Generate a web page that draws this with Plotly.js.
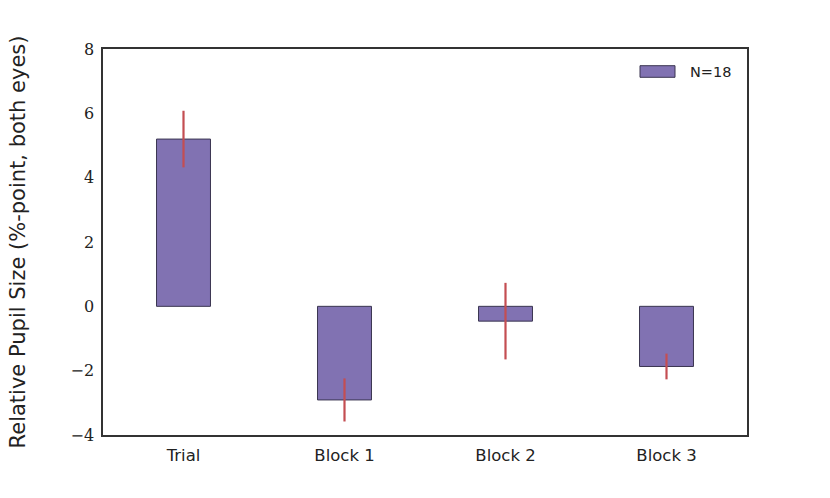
<!DOCTYPE html>
<html>
<head>
<meta charset="utf-8">
<script src="https://cdn.plot.ly/plotly-3.0.1.min.js"></script>
<style>html,body{margin:0;padding:0;background:#fff;}#chart{width:830px;height:498px;}</style>
</head>
<body>
<div id="chart"></div>
<script>
const categories = ["Trial", "Block 1", "Block 2", "Block 3"];
const values = [5.20, -2.91, -0.46, -1.87];
const errors = [0.88, 0.67, 1.19, 0.40];
const seriesName = "N=18";
const yTicks = [-4, -2, 0, 2, 4, 6, 8];
const yTickLabels = ["\u22124", "\u22122", "0", "2", "4", "6", "8"];

const trace = {
  type: "bar",
  x: categories,
  y: values,
  name: seriesName,
  width: 0.335,
  marker: {color: "#8172B2", line: {color: "#3a3550", width: 1}},
  error_y: {type: "data", array: errors, visible: true, color: "#C44E52", thickness: 2.2, width: 0},
  showlegend: false
};

const layout = {
  width: 830, height: 498,
  margin: {l: 103, r: 83, t: 49, b: 63},
  paper_bgcolor: "#fff", plot_bgcolor: "#fff",
  xaxis: {
    type: "category", range: [-0.5, 3.5],
    showgrid: false, zeroline: false, ticks: "",
    showline: true, linecolor: "#333", linewidth: 1.6, mirror: true,
    ticklabelstandoff: 5,
    tickfont: {family: "DejaVu Sans", size: 16.5, color: "#222"}
  },
  yaxis: {
    range: [-4, 8], tickvals: yTicks, ticktext: yTickLabels,
    showgrid: false, zeroline: false, ticks: "",
    showline: true, linecolor: "#333", linewidth: 1.6, mirror: true,
    ticklabelstandoff: 4,
    tickfont: {family: "DejaVu Serif", size: 16, color: "#222"},
    title: {text: "Relative Pupil Size (%-point, both eyes)", font: {family: "DejaVu Sans", size: 21, color: "#222"}, standoff: 39}
  },
  shapes: [{
    type: "rect", xref: "paper", yref: "paper",
    x0: (640 - 103) / 644, x1: (675 - 103) / 644,
    y0: (435 - 77.3) / 386, y1: (435 - 65.7) / 386,
    fillcolor: "#8172B2", line: {color: "#3a3550", width: 1}
  }],
  annotations: [{
    text: seriesName, xref: "paper", yref: "paper",
    x: (688 - 103) / 644, y: (435 - 71.5) / 386,
    xanchor: "left", yanchor: "middle", showarrow: false,
    font: {family: "DejaVu Sans", size: 14.5, color: "#222"}
  }]
};

Plotly.newPlot("chart", [trace], layout, {displayModeBar: false, staticPlot: true});
</script>
</body>
</html>
